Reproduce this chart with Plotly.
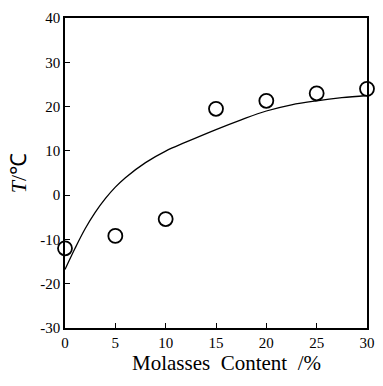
import plotly.graph_objects as go

# measured data points
molasses = [0, 5, 10, 15, 20, 25, 30]
temperature = [-12.0, -9.2, -5.4, 19.5, 21.3, 23.0, 24.0]

# fitted curve
curve_x = [0, 1, 2, 3, 4, 5, 6, 8, 10, 12, 15, 17.5, 20, 22.5, 25, 27.5, 30]
curve_y = [-16.8, -12.0, -7.6, -3.9, -0.8, 1.8, 3.95, 7.35, 9.95, 11.95, 14.8, 17.0, 19.0, 20.4, 21.3, 22.0, 22.5]

x_ticks = [0, 5, 10, 15, 20, 25, 30]
y_ticks = [-30, -20, -10, 0, 10, 20, 30, 40]

font_family = "Liberation Serif"

fig = go.Figure()
fig.add_trace(go.Scatter(
    x=curve_x, y=curve_y, mode="lines",
    line=dict(color="black", width=1.3, shape="spline", smoothing=1.0),
    showlegend=False, hoverinfo="skip",
))
fig.add_trace(go.Scatter(
    x=molasses, y=temperature, mode="markers",
    marker=dict(symbol="circle", size=14, color="white",
                line=dict(color="black", width=1.8)),
    cliponaxis=False, showlegend=False,
))

fig.update_layout(
    width=383, height=386,
    margin=dict(l=65, r=8, t=18, b=58),
    paper_bgcolor="white", plot_bgcolor="white",
    font=dict(family=font_family, color="black", size=15),
)
fig.update_xaxes(
    range=[0, 30], tickvals=x_ticks, ticktext=[str(v) for v in x_ticks],
    ticks="inside", ticklen=5, tickcolor="black", tickwidth=1,
    showline=True, linecolor="black", linewidth=1.5, mirror=True,
    showgrid=False, zeroline=False,
    title=dict(text="&nbsp;&nbsp;&nbsp;&nbsp;Molasses&nbsp;&nbsp;Content&nbsp;&nbsp;/%",
               font=dict(size=21, family=font_family), standoff=0),
    tickfont=dict(size=15, family=font_family),
)
fig.update_yaxes(
    range=[-30, 40], tickvals=y_ticks, ticktext=[str(v) for v in y_ticks],
    ticks="inside", ticklen=5, tickcolor="black", tickwidth=1,
    showline=True, linecolor="black", linewidth=1.5, mirror=True,
    showgrid=False, zeroline=False,
    title=dict(text="<i>T</i>/℃", font=dict(size=22, family=font_family), standoff=8),
    tickfont=dict(size=15, family=font_family),
)

fig.write_html("out.html")
